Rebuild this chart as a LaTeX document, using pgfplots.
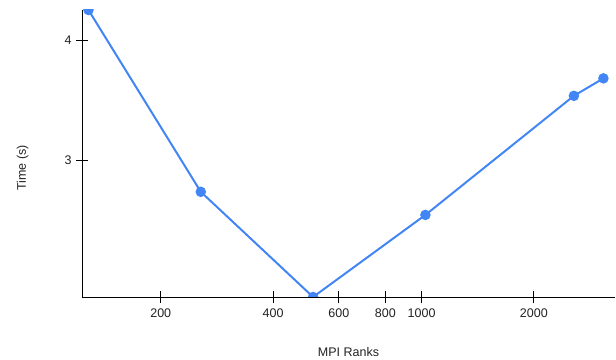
\documentclass[border=0pt]{standalone}
\usepackage{fontspec}
\setmainfont{Liberation Sans}
\usepackage{pgfplots}
\pgfplotsset{compat=1.18}
\definecolor{gblue}{HTML}{4285F4}
\definecolor{lbl}{HTML}{222222}
\begin{document}
\begin{tikzpicture}
\useasboundingbox (-82bp,-63bp) rectangle (534bp,297bp);
\begin{axis}[
  at={(0,0)}, anchor=south west,
  scale only axis,
  width=533bp, height=287bp,
  xmode=log, ymode=log,
  xmin=123, xmax=3300,
  ymin=2.16, ymax=4.3,
  axis lines*=left,
  axis line style={black, line width=0.8bp},
  xtick={200,400,600,800,1000,2000},
  xticklabels={200,400,600,800,1000,2000},
  ytick={3,4},
  yticklabels={3,4},
  minor tick num=0,
  log basis x=10,
  tick align=center,
  major tick length=12bp,
  tick style={black, line width=0.8bp},
  /pgf/number format/assume math mode=true,
  ticklabel style={font=\fontsize{12.5bp}{14bp}\selectfont, text=lbl},
  xticklabel style={yshift=-2bp},
  yticklabel style={xshift=-1bp},
  clip marker paths=true,
  xlabel={MPI Ranks},
  ylabel={Time (s)},
  label style={font=\fontsize{12.5bp}{14bp}\selectfont, text=lbl},
  xlabel style={at={(rel axis cs:0.5,0)}, yshift=-47bp},
  ylabel style={at={(rel axis cs:0,0.45)}, yshift=50bp},
]
\addplot[color=gblue, line width=2bp, mark=*, mark size=4.2bp, mark options={fill=gblue, draw=gblue}]
coordinates {
(128,4.30)
(256,2.78)
(512,2.16)
(1024,2.63)
(2560,3.50)
(3072,3.65)
};
\end{axis}
\end{tikzpicture}
\end{document}
